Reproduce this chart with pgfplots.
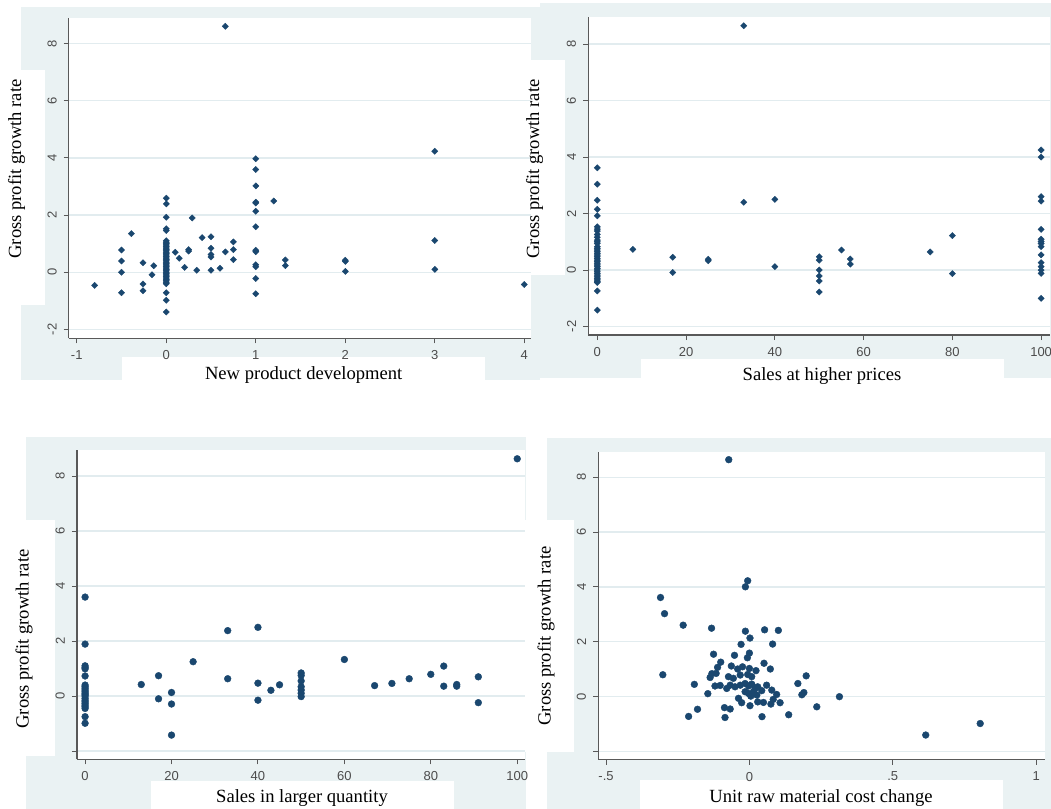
\documentclass[border=0pt]{standalone}
\usepackage{fontspec}
\setmainfont{Liberation Serif}
\newfontfamily\ticksans{Liberation Sans}
\usepackage{pgfplots}
\pgfplotsset{compat=1.18}
\definecolor{stbg}{RGB}{234,242,243}
\definecolor{stgrid}{RGB}{226,236,239}
\definecolor{navy}{RGB}{26,71,111}
\pgfplotsset{stata/.style={
  scale only axis,
  anchor=south west,
  axis background/.style={fill=white},
  axis x line*=bottom, axis y line*=left,
  axis line style={black!65, line width=0.6pt},
  tick align=outside,
  major tick length=2.6pt,
  tick style={black!65, line width=0.5pt},
  ymajorgrids, grid style={stgrid, line width=0.7pt},
  ytick={-2,0,2,4,6,8},
  yticklabels={-2,0,2,4,6,8},
  yticklabel style={rotate=90, anchor=south, font=\ticksans\fontsize{6.5}{7}\selectfont, text=black!70},
  xticklabel style={font=\ticksans\fontsize{6.5}{7}\selectfont, text=black!70},
  /pgf/number format/assume math mode=true,
  clip=false,
  only marks,
}}
\pgfplotsset{dia/.style={mark=square*, mark size=1.1pt, mark options={rotate=45, fill=navy, draw=navy, line width=0.2pt}},
  circ/.style={mark=*, mark size=1.7pt, mark options={fill=navy, draw=navy, line width=0.2pt}}}
\newcommand{\lab}{\fontsize{9.3}{11}\selectfont}
\begin{document}
\begin{tikzpicture}
\useasboundingbox (0,0) rectangle (525.5pt,404.5pt);
\fill[white] (0,0) rectangle (525.5pt,404.5pt);
\begin{scope}[x=0.5pt,y=-0.5pt,shift={(0pt,404.5pt)}]
  % grey graph regions
  \fill[stbg] (21.3,6.7) rectangle (540,380);
  \fill[stbg] (540,3) rectangle (1051,378);
  \fill[stbg] (25.8,437) rectangle (526,809);
  \fill[stbg] (547,438) rectangle (1051,809);
  % white patches
  \fill[white] (0,70) rectangle (44.8,305);
  \fill[white] (122,357) rectangle (485,381);
  \fill[white] (508,60) rectangle (565,275);
  \fill[white] (641,359) rectangle (1004,378);
  \fill[white] (0,520) rectangle (55,756);
  \fill[white] (150.8,781) rectangle (454,809);
  \fill[white] (509.6,520) rectangle (574,752);
  \fill[white] (640,780) rectangle (1003,809);
\end{scope}

% Panel 1
\begin{axis}[stata, at={(34.45pt,235.35pt)}, width=231.05pt, height=160pt,
  xmin=-1.088, xmax=4.075, ymin=-2.31, ymax=8.88, xtick={-1,0,1,2,3,4}]
\addplot[dia] table {
x y
0.66 8.6
-0.80 -0.46
-0.5 0.78
-0.5 0.39
-0.5 0.0
-0.5 -0.72
-0.39 1.35
-0.26 0.33
-0.26 -0.41
-0.26 -0.65
-0.14 0.23
-0.16 -0.09
0 2.59
0 2.39
0 1.92
0 1.52
0 1.46
0 1.1
0 1.05
0 1.0
0 0.95
0 0.9
0 0.85
0 0.8
0 0.75
0 0.7
0 0.65
0 0.6
0 0.55
0 0.5
0 0.45
0 0.4
0 0.35
0 0.3
0 0.25
0 0.2
0 0.15
0 0.1
0 0.05
0 0
0 -0.05
0 -0.1
0 -0.15
0 -0.2
0 -0.25
0 -0.3
0 -0.35
0 -0.4
0 -0.72
0 -0.98
0 -1.39
0.10 0.70
0.145 0.49
0.205 0.17
0.25 0.79
0.25 0.74
0.29 1.90
0.34 0.07
0.40 1.21
0.50 1.24
0.50 0.84
0.50 0.62
0.50 0.53
0.50 0.07
0.60 0.14
0.66 0.71
0.75 1.06
0.75 0.79
0.75 0.44
1 3.97
1 3.59
1 3.02
1 2.45
1 2.42
1 2.13
1 1.59
1 0.77
1 0.72
1 0.26
1 0.19
1 -0.22
1 -0.75
1.2 2.49
1.33 0.43
1.33 0.23
2 0.38
2 0.42
2 0.03
3 4.23
3 1.11
3 0.10
4 -0.43
};
\end{axis}

% Panel 2
\begin{axis}[stata, at={(294.15pt,237pt)}, width=230.85pt, height=159pt,
  xmin=-2.03, xmax=102.0, ymin=-2.30, ymax=8.96, xtick={0,20,40,60,80,100}]
\addplot[dia] table {
x y
33 8.65
33 2.40
40 2.50
40 0.12
8 0.73
17 0.45
17 -0.09
25 0.38
25 0.33
50 0.47
50 0.35
50 0
50 -0.21
50 -0.39
50 -0.78
55 0.71
57 0.39
57 0.21
75 0.64
80 1.22
80 -0.13
100 4.25
100 4.0
100 2.60
100 2.44
100 1.44
100 1.09
100 1.01
100 0.94
100 0.83
100 0.54
100 0.26
100 0.12
100 0.0
100 -0.12
100 -1.0
0 3.62
0 3.04
0 2.47
0 2.15
0 1.92
0 1.53
0 1.45
0 1.38
0 1.26
0 1.16
0 1.06
0 1.0
0 0.94
0 0.83
0 0.77
0 0.71
0 0.65
0 0.59
0 0.53
0 0.47
0 0.41
0 0.35
0 0.30
0 0.24
0 0.18
0 0.12
0 0.06
0 0
0 -0.06
0 -0.12
0 -0.18
0 -0.24
0 -0.30
0 -0.35
0 -0.40
0 -0.44
0 -0.74
0 -1.42
};
\end{axis}

% Panel 3
\begin{axis}[stata, at={(38.55pt,24.85pt)}, width=223.95pt, height=154.65pt,
  xmin=-1.85, xmax=101.8, ymin=-2.30, ymax=8.95, xtick={0,20,40,60,80,100},
  yticklabels={,0,2,4,6,8}]
\addplot[circ] table {
x y
100 8.63
0 3.6
0 1.89
0 1.10
0 1.04
0 0.99
0 0.73
0 0.40
0 0.34
0 0.28
0 0.22
0 0.16
0 0.10
0 0.05
0 0
0 -0.08
0 -0.15
0 -0.21
0 -0.27
0 -0.33
0 -0.39
0 -0.45
0 -0.75
0 -0.99
13 0.42
17 0.74
17 -0.10
20 0.13
20 -0.29
20 -1.42
25 1.25
33 2.38
33 0.63
40 2.50
40 0.47
40 -0.15
43 0.21
45 0.41
50 0.84
50 0.75
50 0.55
50 0.34
50 0.22
50 0.10
50 -0.02
60 1.33
67 0.38
71 0.46
75 0.63
80 0.79
83 1.09
83 0.36
86 0.42
86 0.36
91 0.70
91 -0.24
};
\end{axis}

% Panel 4
\begin{axis}[stata, at={(299.15pt,24.65pt)}, width=223.35pt, height=153.85pt,
  xmin=-0.527, xmax=1.031, ymin=-2.31, ymax=8.92,
  xtick={-0.5,0,0.5,1}, xticklabels={-.5,0,.5,1},
  yticklabels={,0,2,4,6,8}]
\addplot[circ] table {
x y
-0.072 8.64
0.615 -1.41
0.805 -0.99
-0.006 4.22
-0.014 4.0
-0.31 3.61
-0.296 3.02
-0.231 2.60
-0.132 2.49
-0.014 2.38
0.053 2.43
0.101 2.41
0.002 2.13
-0.029 1.90
0.081 1.91
0.0 1.58
-0.007 1.41
-0.125 1.54
-0.052 1.50
-0.10 1.25
-0.111 1.06
-0.131 0.83
-0.137 0.69
-0.116 0.84
-0.063 1.11
-0.041 1.0
-0.024 1.08
0.0 1.02
0.023 0.94
0.051 1.21
0.073 1.0
-0.073 0.72
-0.056 0.66
-0.032 0.78
-0.006 0.80
0.008 0.72
-0.302 0.79
-0.192 0.44
-0.145 0.10
-0.120 0.38
-0.102 0.40
-0.079 0.29
-0.067 0.41
-0.05 0.35
-0.032 0.41
-0.015 0.47
-0.003 0.38
0.008 0.45
0.02 0.29
0.029 0.35
-0.015 0.17
-0.003 0.11
0.005 0.01
0.014 0.17
0.026 0.05
0.043 0.21
0.06 0.41
0.078 0.23
0.095 0.07
-0.038 -0.07
-0.027 -0.23
0.002 -0.34
0.029 -0.2
0.049 -0.22
0.075 -0.28
0.083 -0.11
0.107 -0.23
-0.087 -0.41
-0.067 -0.46
-0.085 -0.77
-0.181 -0.47
-0.212 -0.73
0.044 -0.74
0.137 -0.67
0.169 0.47
0.198 0.75
0.183 0.06
0.19 0.14
0.235 -0.38
0.314 -0.01
};
\end{axis}

\begin{scope}[x=0.5pt,y=-0.5pt,shift={(0pt,404.5pt)}]
  \node[rotate=90, inner sep=0pt] at (16.5,169) {\lab Gross profit growth rate};
  \node[anchor=base, inner sep=0pt] at (303.7,380) {\lab New product development};
  \node[rotate=90, inner sep=0pt] at (534.7,169) {\lab Gross profit growth rate};
  \node[anchor=base, inner sep=0pt] at (822,381) {\lab Sales at higher prices};
  \node[rotate=90, inner sep=0pt] at (24,639) {\lab Gross profit growth rate};
  \node[anchor=base, inner sep=0pt] at (302,803) {\lab Sales in larger quantity};
  \node[rotate=90, inner sep=0pt] at (546,636) {\lab Gross profit growth rate};
  \node[anchor=base, inner sep=0pt] at (821,803) {\lab Unit raw material cost change};
\end{scope}
\end{tikzpicture}
\end{document}
